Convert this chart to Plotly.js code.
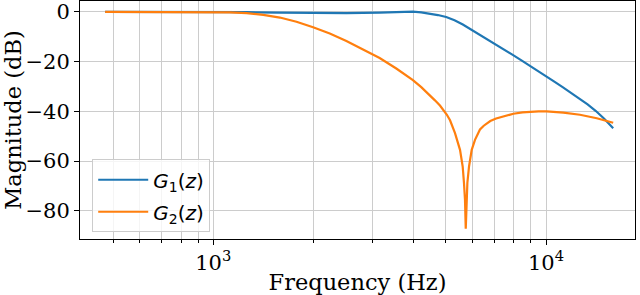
<!DOCTYPE html>
<html>
<head>
<meta charset="utf-8">
<script src="https://cdn.plot.ly/plotly-3.0.1.min.js"></script>
<style>html,body{margin:0;padding:0;background:#fff;}#chart{width:640px;height:295px;}</style>
</head>
<body>
<div id="chart"></div>
<script>
// Frequency response data
const g1Freq = [473, 700, 1000, 1259, 1585, 1995, 2512, 3162, 3548, 3981, 4217, 4467, 4732, 5012, 5309, 5623, 5957, 6310, 6683, 7079, 7499, 7943, 8414, 8913, 9441, 10000, 10593, 11220, 11885, 12589, 13335, 14125, 14962, 15920];
const g1Mag  = [0, 0, 0, -0.15, -0.35, -0.45, -0.5, -0.35, -0.1, 0.05, -0.2, -0.7, -1.3, -2.1, -3.4, -5.1, -7.1, -9.1, -11.0, -13.0, -15.1, -17.3, -19.4, -21.5, -23.7, -25.9, -28.1, -30.3, -32.5, -34.8, -37.2, -39.9, -43.0, -46.8];

const g2Freq = [473, 700, 1000, 1122, 1259, 1413, 1585, 1778, 1995, 2239, 2512, 2818, 3162, 3548, 3981, 4217, 4467, 4636, 4800, 4915, 5030, 5147, 5327, 5515, 5618, 5668, 5708, 5738, 5777, 5803, 5870, 5980, 6117, 6200, 6332, 6500, 6634, 6800, 7080, 7500, 7980, 8500, 8951, 9500, 10047, 11270, 12650, 14210, 15920];
const g2Mag  = [0, 0, -0.1, -0.2, -0.5, -1.2, -2.3, -4.0, -6.2, -8.7, -11.7, -15.0, -18.6, -22.8, -27.5, -30.3, -33.4, -35.6, -37.7, -39.4, -41.3, -43.6, -48.8, -55.5, -62.2, -68.8, -75.5, -87.2, -75.5, -68.8, -62.2, -55.5, -51.5, -49.8, -47.3, -45.8, -44.8, -43.9, -42.9, -41.9, -41.0, -40.4, -40.1, -40.0, -40.0, -40.5, -41.4, -42.8, -44.6];

const seriesNames = ['<i>G</i><sub>1</sub>(<i>z</i>)', '<i>G</i><sub>2</sub>(<i>z</i>)'];
const xMajorTicks = [1000, 10000];
const xMajorLabels = ['10<sup>3</sup>', '10<sup>4</sup>'];
const xMinorTicks = [500, 600, 700, 800, 900, 2000, 3000, 4000, 5000, 6000, 7000, 8000, 9000];
const yTicks = [0, -20, -40, -60, -80];

const serif = 'DejaVu Serif, serif';
const traces = [
  {x: g1Freq, y: g1Mag, name: seriesNames[0], legendgroup: 'a', mode: 'lines', line: {color: '#1f77b4', width: 2.2}},
  {x: g2Freq, y: g2Mag, name: seriesNames[1], legendgroup: 'b', mode: 'lines', line: {color: '#ff7f0e', width: 2.2}}
];

const layout = {
  width: 640, height: 295,
  margin: {l: 80, r: 5, t: 1, b: 56},
  paper_bgcolor: '#fff', plot_bgcolor: '#fff',
  showlegend: true,
  legend: {
    x: 0.022, y: 0.335, xanchor: 'left', yanchor: 'top',
    traceorder: 'grouped', tracegroupgap: 3, itemwidth: 50,
    bgcolor: 'rgba(255,255,255,0.8)', bordercolor: '#cccccc', borderwidth: 1,
    font: {family: 'DejaVu Sans, sans-serif', size: 20, color: '#000'}
  },
  xaxis: {
    type: 'log',
    range: [2.5993, 4.2675],
    tickmode: 'array', tickvals: xMajorTicks, ticktext: xMajorLabels,
    ticks: 'outside', ticklen: 5, tickcolor: '#000', tickwidth: 1,
    showgrid: true, gridcolor: '#cccccc', gridwidth: 1,
    minor: {tickmode: 'array', tickvals: xMinorTicks, ticks: 'outside', ticklen: 3, tickcolor: '#000', showgrid: true, gridcolor: '#cccccc', gridwidth: 1},
    showline: true, linecolor: '#000', linewidth: 1, mirror: true,
    zeroline: false,
    tickfont: {family: serif, size: 21, color: '#000'},
    title: {text: 'Frequency (Hz)', font: {family: serif, size: 22.5, color: '#000'}, standoff: 1}
  },
  yaxis: {
    range: [-91.35, 4.35],
    tickmode: 'array', tickvals: yTicks,
    ticks: 'outside', ticklen: 5, tickcolor: '#000', tickwidth: 1,
    showgrid: true, gridcolor: '#cccccc', gridwidth: 1,
    showline: true, linecolor: '#000', linewidth: 1, mirror: true,
    zeroline: false,
    tickfont: {family: serif, size: 21, color: '#000'},
    title: {text: 'Magnitude (dB)', font: {family: serif, size: 22.5, color: '#000'}, standoff: 4}
  }
};

Plotly.newPlot('chart', traces, layout, {displayModeBar: false, staticPlot: true});
</script>
</body>
</html>
